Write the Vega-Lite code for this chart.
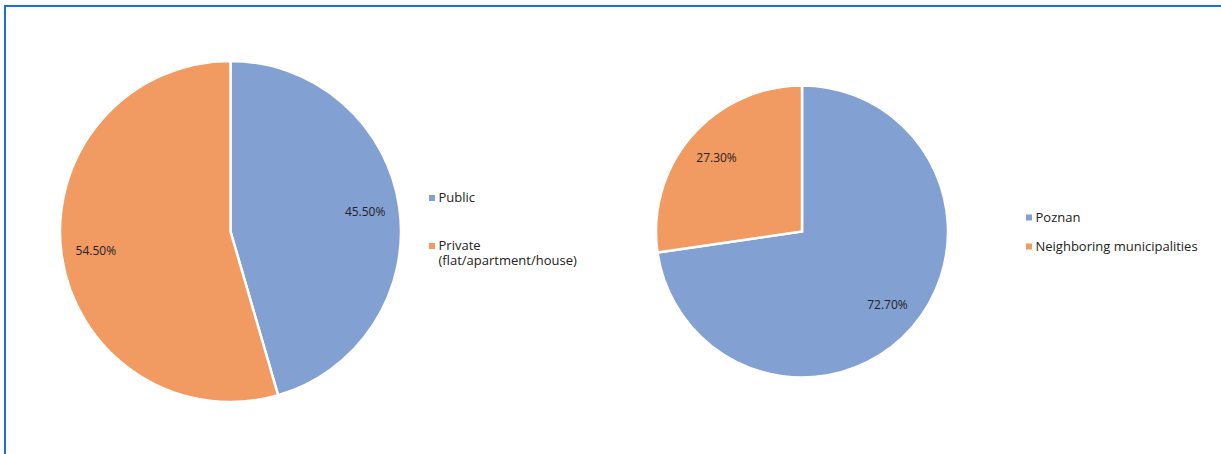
{
  "$schema": "https://vega.github.io/schema/vega-lite/v6.json",
  "width": 1221,
  "height": 454,
  "autosize": {"type": "fit", "contains": "padding"},
  "padding": {"left": 5, "top": 6, "right": -3, "bottom": -3},
  "background": "white",
  "config": {
    "view": {"stroke": "#1A73C8", "strokeWidth": 2},
    "font": "Open Sans"
  },
  "data": {
    "values": [
      {"chart": "A", "category": "Public", "value": 0.455},
      {"chart": "A", "category": "Private", "value": 0.545},
      {"chart": "B", "category": "Poznan", "value": 0.727},
      {"chart": "B", "category": "Neighboring municipalities", "value": 0.273}
    ]
  },
  "encoding": {
    "x": {"field": "chart", "type": "nominal", "scale": {"type": "point", "domain": ["A", "B"], "range": [225.5, 797], "padding": 0}, "axis": null},
    "theta": {"field": "value", "type": "quantitative", "stack": true, "scale": {"domain": [0, 1]}}
  },
  "layer": [
    {
      "transform": [{"filter": "datum.chart == 'A'"}],
      "mark": {"type": "arc", "outerRadius": 170.5, "stroke": "white", "strokeWidth": 2.5},
      "encoding": {
        "order": {"field": "value", "sort": "ascending"},
        "color": {
          "field": "category", "type": "nominal",
          "scale": {"domain": ["Public", "Private"], "range": ["#83A0D3", "#F19A61"]},
          "legend": {
            "orient": "none", "legendX": 420.5, "legendY": 185.5, "title": null,
            "symbolType": "square", "symbolSize": 36, "symbolStrokeWidth": 0,
            "labelFont": "Open Sans", "labelFontSize": 13, "labelColor": "#222222",
            "labelOffset": 0, "rowPadding": 34, "padding": 0, "labelLimit": 300,
            "labelExpr": "datum.label == 'Private' ? ['Private', '(flat/apartment/house)'] : datum.label",
            "encode": {"labels": {"update": {"lineHeight": {"value": 19}}}}
          }
        }
      }
    },
    {
      "transform": [{"filter": "datum.chart == 'A'"}],
      "mark": {"type": "text", "radius": 136, "font": "Open Sans", "fontSize": 12, "color": "#222222"},
      "encoding": {
        "order": {"field": "value", "sort": "ascending"},
        "text": {"field": "value", "type": "quantitative", "format": ".2%"}
      }
    },
    {
      "transform": [{"filter": "datum.chart == 'B'"}],
      "mark": {"type": "arc", "outerRadius": 146, "stroke": "white", "strokeWidth": 2.5},
      "encoding": {
        "order": {"field": "value", "sort": "descending"},
        "color": {
          "field": "category", "type": "nominal",
          "scale": {"domain": ["Poznan", "Neighboring municipalities"], "range": ["#83A0D3", "#F19A61"]},
          "legend": {
            "orient": "none", "legendX": 1017.5, "legendY": 205, "title": null,
            "symbolType": "square", "symbolSize": 36, "symbolStrokeWidth": 0,
            "labelFont": "Open Sans", "labelFontSize": 13, "labelColor": "#222222",
            "labelOffset": 0, "rowPadding": 15, "padding": 0, "labelLimit": 300
          }
        }
      }
    },
    {
      "transform": [{"filter": "datum.chart == 'B'"}],
      "mark": {"type": "text", "radius": 113, "font": "Open Sans", "fontSize": 12, "color": "#222222"},
      "encoding": {
        "order": {"field": "value", "sort": "descending"},
        "text": {"field": "value", "type": "quantitative", "format": ".2%"}
      }
    }
  ],
  "resolve": {"scale": {"color": "independent"}, "legend": {"color": "independent"}}
}
